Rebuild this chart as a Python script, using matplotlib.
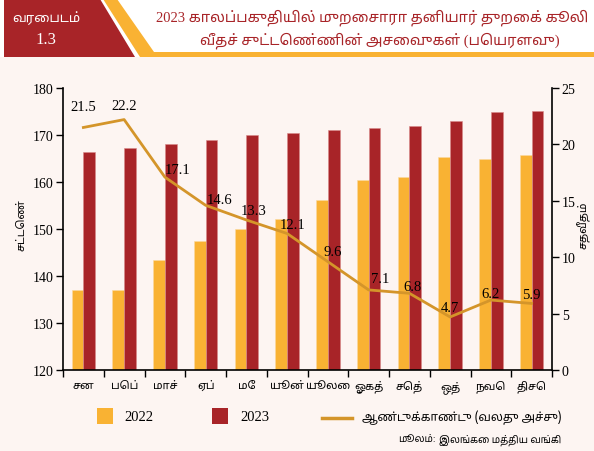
import matplotlib
matplotlib.use("Agg")
import matplotlib.pyplot as plt
import numpy as np
from matplotlib.patches import Polygon, Rectangle
from matplotlib.lines import Line2D

# data
months = ["சன", "பெப்", "மாச்", "ஏப்", "மே", "யூன்", "யூலை", "ஓகத்", "செத்", "ஒத்", "நவெ", "திசெ"]
wage_2022 = [137.0, 137.0, 143.5, 147.5, 150.1, 152.1, 156.2, 160.4, 161.1, 165.3, 164.9, 165.7]
wage_2023 = [166.4, 167.2, 168.1, 168.9, 170.1, 170.4, 171.1, 171.5, 171.9, 173.0, 174.9, 175.2]
yoy = [21.5, 22.2, 17.1, 14.6, 13.3, 12.1, 9.6, 7.1, 6.8, 4.7, 6.2, 5.9]

RED = "#A82428"
ORANGE = "#F9B233"
LINE = "#D4952A"
BG = "#FDF5F2"
TITLE_F = ["Liberation Serif", "Noto Sans Tamil"]
SANS_T = ["Noto Sans Tamil", "Liberation Serif"]

fig = plt.figure(figsize=(5.94, 4.52), dpi=100)
fig.patch.set_facecolor(BG)

# header (pixel coords, y from top)
W, H = 594, 452
def px(pts):
    return [(x / W, 1 - y / H) for x, y in pts]

fig.patches.append(Rectangle((0, 1 - 58 / H), 1, 58 / H, transform=fig.transFigure,
                             facecolor="white", edgecolor="none", zorder=0))
fig.patches.append(Polygon(px([(4, 0), (100, 0), (135, 58), (4, 58)]), closed=True,
                           transform=fig.transFigure, facecolor=RED, edgecolor="none", zorder=1))
fig.patches.append(Polygon(px([(103, 0), (117, 0), (154, 53), (594, 53), (594, 58), (140, 58)]),
                           closed=True, transform=fig.transFigure, facecolor=ORANGE,
                           edgecolor="none", zorder=1))

fig.text(46 / W, 1 - 18 / H, "வரைபடம்", color="white", fontsize=9.5, family=SANS_T,
         ha="center", va="center")
fig.text(46 / W, 1 - 40 / H, "1.3", color="white", fontsize=12, family=TITLE_F,
         ha="center", va="center")
fig.text(372 / W, 1 - 18 / H, "2023 காலப்பகுதியில் முறைசாரா தனியார் துறைக் கூலி",
         color=RED, fontsize=10.5, family=TITLE_F, ha="center", va="center")
fig.text(380 / W, 1 - 41 / H, "வீதச் சுட்டெண்ணின் அசைவுகள் (பெயரளவு)",
         color=RED, fontsize=10.5, family=TITLE_F, ha="center", va="center")

# main axes
ax = fig.add_axes([63 / W, 1 - 371 / H, (552 - 63) / W, (371 - 89) / H])
ax.set_facecolor(BG)
x = np.arange(len(months))
bw = 0.29
ax.bar(x - bw / 2, np.array(wage_2022) - 120, bw, bottom=120, color=ORANGE,
       edgecolor="#FBD9A0", linewidth=0.4, zorder=2)
ax.bar(x + bw / 2, np.array(wage_2023) - 120, bw, bottom=120, color=RED,
       edgecolor="#D98A8A", linewidth=0.4, zorder=2)
ax.set_xlim(-0.5, len(months) - 0.5)
ax.set_ylim(120, 180)
ax.set_yticks(np.arange(120, 181, 10))
ax.set_xticks(x)
ax.set_xticklabels(months, family=SANS_T, fontsize=8)
ax.set_xticks(np.arange(-0.5, len(months), 1), minor=True)
ax.tick_params(axis="x", which="major", length=0, pad=7)
ax.tick_params(axis="x", which="minor", length=5, width=1, direction="out")
ax.tick_params(axis="y", length=5, width=1, direction="out", labelsize=10, pad=2)
for t in ax.get_yticklabels():
    t.set_family("Liberation Serif")
ax.spines["top"].set_visible(False)
ax.spines["right"].set_visible(False)
for s in ("left", "bottom"):
    ax.spines[s].set_linewidth(1.2)

ax2 = ax.twinx()
ax2.plot(x, yoy, color=LINE, linewidth=2, zorder=3)
ax2.set_ylim(0, 25)
ax2.set_yticks(np.arange(0, 26, 5))
ax2.tick_params(axis="y", length=5, width=1, direction="out", labelsize=10, pad=2)
for t in ax2.get_yticklabels():
    t.set_family("Liberation Serif")
ax2.spines["top"].set_visible(False)
ax2.spines["left"].set_visible(False)
ax2.spines["bottom"].set_visible(False)
ax2.spines["right"].set_linewidth(1.2)

fig.text(22 / W, 1 - 225 / H, "சட்டெண்", family=SANS_T, fontsize=8, rotation=90,
         ha="center", va="center")
fig.text(584 / W, 1 - 225 / H, "சதவீதம்", family=SANS_T, fontsize=8, rotation=90,
         ha="center", va="center")

# label offsets in pixels
offs = [(0, 21), (0, 14), (13, 8), (14, 6), (7, 9), (5, 9), (5, 10), (12, 11),
        (3, 7), (0, 9), (0, 7), (0, 9)]
for xi, v, (dx, dy) in zip(x, yoy, offs):
    ax2.annotate(f"{v:.1f}", (xi, v), xytext=(dx, dy), textcoords="offset pixels",
                 ha="center", va="center", fontsize=10.5, family="Liberation Serif",
                 color="black", zorder=4)

# legend
fig.patches.append(Rectangle((97 / W, 1 - 425 / H), 16 / W, 16 / H, transform=fig.transFigure,
                             facecolor=ORANGE, edgecolor="none"))
fig.text(124 / W, 1 - 418 / H, "2022", fontsize=10.5, family="Liberation Serif", va="center")
fig.patches.append(Rectangle((212 / W, 1 - 425 / H), 16 / W, 16 / H, transform=fig.transFigure,
                             facecolor=RED, edgecolor="none"))
fig.text(240 / W, 1 - 418 / H, "2023", fontsize=10.5, family="Liberation Serif", va="center")
fig.lines.append(Line2D([322 / W, 352 / W], [1 - 419 / H, 1 - 419 / H], transform=fig.transFigure,
                        color=LINE, linewidth=2.5))
fig.text(362 / W, 1 - 418 / H, "ஆண்டுக்காண்டு (வலது அச்சு)", fontsize=8.5, family=SANS_T,
         va="center")

# source line: italic label then the rest, placed side by side
src_lab = fig.text(398 / W, 1 - 440 / H, "மூலம்:", fontsize=7, family=SANS_T,
                   style="italic", va="center", ha="left")
r = fig.canvas.get_renderer()
bb = src_lab.get_window_extent(renderer=r)
fig.text((bb.x1 + 4) / W, 1 - 440 / H, "இலங்கை மத்திய வங்கி", fontsize=7, family=SANS_T,
         va="center", ha="left")

fig.savefig("out.png", dpi=100, facecolor=BG)
